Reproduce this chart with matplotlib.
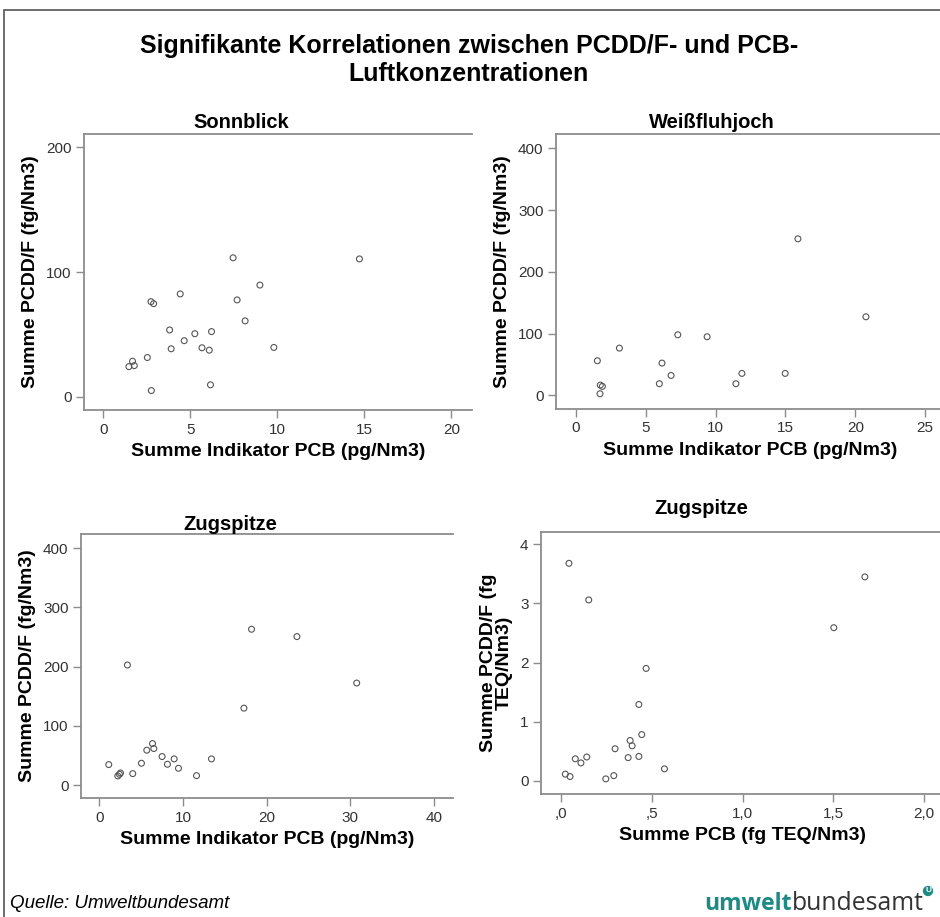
import matplotlib
matplotlib.use("Agg")
import matplotlib.pyplot as plt
from matplotlib.patches import Rectangle

plt.rcParams["font.family"] = ["Liberation Sans", "DejaVu Sans"]

# Sonnblick: Summe Indikator PCB (pg/Nm3) vs. Summe PCDD/F (fg/Nm3)
sonn_x = [7.46, 14.72, 9.0, 4.42, 2.74, 2.89, 7.69, 8.15, 3.81, 5.26, 6.22,
          4.65, 3.90, 5.67, 6.09, 9.80, 2.53, 1.68, 1.47, 1.78, 6.16, 2.76]
sonn_y = [111.4, 110.5, 89.5, 82.4, 76.2, 74.6, 77.6, 60.8, 53.5, 50.5, 52.2,
          44.9, 38.4, 39.2, 37.3, 39.5, 31.4, 28.4, 24.1, 24.9, 9.5, 4.9]

# Weissfluhjoch
weiss_x = [15.89, 20.76, 7.29, 9.39, 3.11, 1.53, 6.16, 6.81, 11.88, 14.98,
           5.97, 11.45, 1.74, 1.89, 1.72]
weiss_y = [253.4, 127.2, 98.1, 94.9, 76.5, 56.1, 52.3, 32.3, 35.6, 35.6,
           18.9, 18.9, 16.7, 14.6, 2.7]

# Zugspitze, Indikator PCB
zug_x = [18.2, 23.63, 3.35, 30.78, 17.29, 6.35, 6.51, 5.67, 7.5, 8.94, 13.41,
         5.03, 1.12, 8.14, 9.46, 3.99, 2.52, 2.40, 2.20, 11.62]
zug_y = [263.1, 250.7, 202.8, 172.4, 130.1, 70.4, 62.0, 59.2, 48.5, 44.5, 44.5,
         37.2, 34.9, 35.5, 28.7, 19.7, 20.8, 18.6, 15.8, 16.3]

# Zugspitze, TEQ
teq_x = [0.044, 0.153, 1.674, 1.503, 0.469, 0.429, 0.445, 0.381, 0.392, 0.298,
         0.142, 0.370, 0.429, 0.079, 0.110, 0.570, 0.024, 0.050, 0.291, 0.247]
teq_y = [3.68, 3.06, 3.45, 2.59, 1.90, 1.29, 0.78, 0.68, 0.59, 0.54,
         0.40, 0.39, 0.41, 0.37, 0.30, 0.20, 0.11, 0.07, 0.085, 0.03]

teq_xticks = [0, 0.5, 1.0, 1.5, 2.0]
teq_xticklabels = [",0", ",5", "1,0", "1,5", "2,0"]

W, H = 940, 917
fig = plt.figure(figsize=(W / 100, H / 100), dpi=100)


def px_axes(left, top, right, bottom):
    return fig.add_axes([left / W, 1 - bottom / H, (right - left) / W, (bottom - top) / H])


ax1 = px_axes(84, 134, 472, 410)
ax2 = px_axes(556, 134, 944, 409)
ax3 = px_axes(81, 534, 453, 798)
ax4 = px_axes(541, 532, 944, 794)

panels = [
    (ax1, sonn_x, sonn_y, (-1.11, 21.19), (-10.7, 210.7), [0, 5, 10, 15, 20], [0, 100, 200],
     "Summe Indikator PCB (pg/Nm3)", "Summe PCDD/F (fg/Nm3)"),
    (ax2, weiss_x, weiss_y, (-1.43, 26.35), (-22, 423), [0, 5, 10, 15, 20, 25], [0, 100, 200, 300, 400],
     "Summe Indikator PCB (pg/Nm3)", "Summe PCDD/F (fg/Nm3)"),
    (ax3, zug_x, zug_y, (-2.2, 42.3), (-21.4, 423.7), [0, 10, 20, 30, 40], [0, 100, 200, 300, 400],
     "Summe Indikator PCB (pg/Nm3)", "Summe PCDD/F (fg/Nm3)"),
    (ax4, teq_x, teq_y, (-0.110, 2.11), (-0.226, 4.21), teq_xticks, [0, 1, 2, 3, 4],
     "Summe PCB (fg TEQ/Nm3)", "Summe PCDD/F (fg\nTEQ/Nm3)"),
]

for ax, xs, ys, xl, yl, xt, yt, xlab, ylab in panels:
    ax.scatter(xs, ys, s=18, facecolors="none", edgecolors="#555555", linewidths=0.8)
    ax.set_xlim(*xl)
    ax.set_ylim(*yl)
    ax.set_xticks(xt)
    ax.set_yticks(yt)
    ax.spines["right"].set_visible(False)
    for s in ["left", "top", "bottom"]:
        ax.spines[s].set_color("#8c8c8c")
        ax.spines[s].set_linewidth(1.3)
    ax.tick_params(direction="out", length=6, width=1, color="#8c8c8c",
                   labelsize=11, labelcolor="#333333", pad=3)
    ax.set_xlabel(xlab, fontsize=14, fontweight="bold", labelpad=5)
    ax.set_ylabel(ylab, fontsize=14, fontweight="bold", labelpad=5, linespacing=0.95)

ax4.set_xticklabels(teq_xticklabels)

# panel titles
fig.text(241 / W, 1 - 122 / H, "Sonnblick", ha="center", va="center", fontsize=14.5, fontweight="bold")
fig.text(712 / W, 1 - 122 / H, "Weißfluhjoch", ha="center", va="center", fontsize=14.5, fontweight="bold")
fig.text(230 / W, 1 - 524 / H, "Zugspitze", ha="center", va="center", fontsize=14.5, fontweight="bold")
fig.text(701 / W, 1 - 508 / H, "Zugspitze", ha="center", va="center", fontsize=14.5, fontweight="bold")

# main title
fig.text(469 / W, 1 - 60 / H,
         "Signifikante Korrelationen zwischen PCDD/F- und PCB-\nLuftkonzentrationen",
         ha="center", va="center", fontsize=18, fontweight="bold", linespacing=1.25)

# source and logo
fig.text(10 / W, 1 - 903 / H, "Quelle: Umweltbundesamt", ha="left", va="center",
         fontsize=13.5, style="italic")
teal = "#1d8a84"
fig.text(792 / W, 1 - 910 / H, "umwelt", ha="right", va="baseline", fontsize=16.5,
         fontweight="bold", color=teal, family="Open Sans")
fig.text(792 / W, 1 - 910 / H, "bundesamt", ha="left", va="baseline", fontsize=17.8,
         color="#333333", family="Open Sans")
fig.text(928 / W, 1 - 891 / H, "U", ha="center", va="center", fontsize=6, fontweight="bold",
         color="white", bbox=dict(boxstyle="circle,pad=0.2", fc=teal, ec="none"))

# outer frame (top and left edges visible)
fig.add_artist(Rectangle((4 / W, -0.05), 1.2, 1 - 10 / H + 0.05, transform=fig.transFigure,
                         fill=False, ec="#555555", lw=1.2))

fig.savefig("out.png", dpi=100)
